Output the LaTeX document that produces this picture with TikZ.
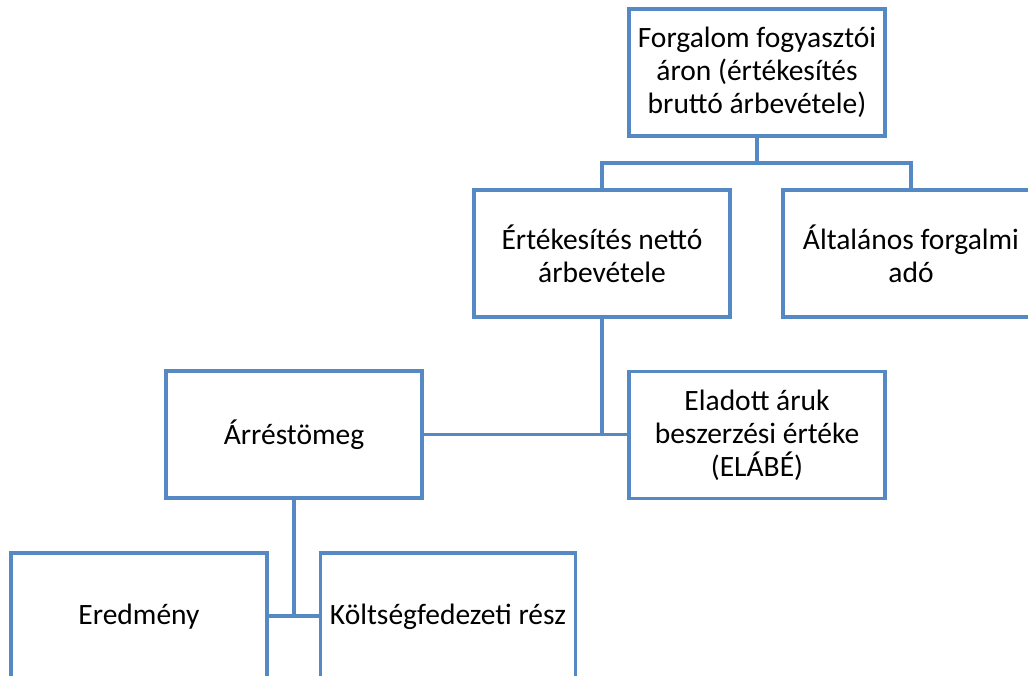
\documentclass[tikz,border=0pt]{standalone}
\usepackage{fontspec}
\setmainfont{Carlito}
\definecolor{boxblue}{HTML}{5589C3}
\begin{document}
\begin{tikzpicture}[x=1pt,y=-1pt,
  box/.style={draw=boxblue, line width=3.2pt, minimum width=256pt, minimum height=127pt,
    align=center, inner sep=2pt, fill=white, font=\fontsize{29.5}{33}\selectfont},
  link/.style={draw=boxblue, line width=3.2pt}]
\useasboundingbox (0,0) rectangle (1028,675);
\begin{scope}
\clip (0,0) rectangle (1028,675);
% boxes
\node[box] (brutto) at (757,72.5) {Forgalom fogyasztói\\áron (értékesítés\\bruttó árbevétele)};
\node[box] (netto)  at (602,253.5) {Értékesítés nettó\\árbevétele};
\node[box] (afa)    at (911,253.5) {Általános forgalmi\\adó};
\node[box] (arres)  at (294,434.5) {Árréstömeg};
\node[box] (elabe)  at (757,435) {Eladott áruk\\beszerzési értéke\\(ELÁBÉ)};
\node[box] (ered)   at (139,616.5) {Eredmény};
\node[box, minimum width=255pt] (kolt) at (448,616.5) {Költségfedezeti rész};
% connectors
\coordinate (split1) at (757,163);
\coordinate (join2)  at (602,434.5);
\coordinate (join3)  at (294,616);
\draw[link] (brutto.south) -- (split1);
\draw[link] (netto.north) |- (split1) -| (afa.north);
\draw[link] (netto.south) -- (join2);
\draw[link] (arres.east) -- (elabe.west |- arres.east);
\draw[link] (arres.south) -- (join3);
\draw[link] (ered.east |- join3) -- (kolt.west |- join3);
\end{scope}
\end{tikzpicture}
\end{document}
